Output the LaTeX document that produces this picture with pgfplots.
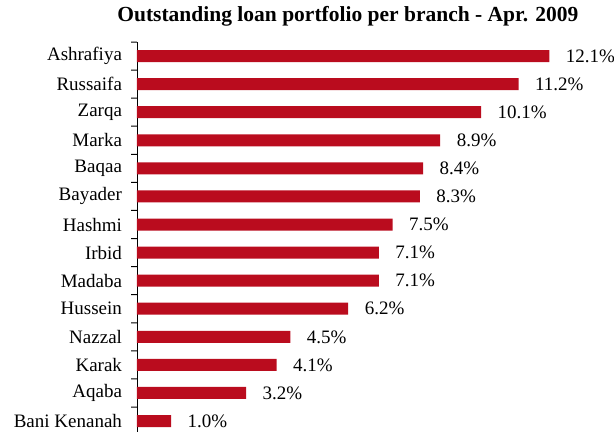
\documentclass[border=0pt]{standalone}
\usepackage{fontspec}
\setmainfont{Liberation Serif}
\usepackage{pgfplots}
\pgfplotsset{compat=1.18}
\definecolor{barred}{RGB}{186,12,30}
\begin{document}
\begin{tikzpicture}
\begin{axis}[
  at={(137pt,-42pt)}, anchor=north west,
  width=477pt, height=390pt, scale only axis,
  xmin=0, xmax=14,
  ymin=-0.5, ymax=13.39, y dir=reverse,
  axis x line=none,
  axis y line=left,
  y axis line style={-, black, line width=0.8pt},
  ytick={0,...,13},
  yticklabels={Ashrafiya,Russaifa,Zarqa,Marka,Baqaa,Bayader,Hashmi,Irbid,Madaba,Hussein,Nazzal,Karak,Aqaba,Bani Kenanah},
  tick align=outside,
  tick style={draw=none},
  major tick length=5.5pt,
  yticklabel style={font=\fontsize{19}{22}\selectfont, xshift=-6pt},
  /pgf/number format/assume math mode=true,
  title={Outstanding loan portfolio per branch - Apr. 2009},
  title style={at={(axis description cs:0.442,1)}, anchor=base, yshift=15pt, font=\bfseries\fontsize{21.5}{24}\selectfont},
  clip=false,
]
\addplot[xbar, bar width=12pt, fill=barred, draw=none,
  point meta=x,
  nodes near coords={\pgfmathprintnumber[fixed,fixed zerofill,precision=1]{\pgfplotspointmeta}\%},
  nodes near coords style={font=\fontsize{19}{22}\selectfont, anchor=west, xshift=13pt, text=black}]
  coordinates {
  (12.1,0) (11.2,1) (10.1,2) (8.9,3) (8.4,4) (8.3,5) (7.5,6)
  (7.1,7) (7.1,8) (6.2,9) (4.5,10) (4.1,11) (3.2,12) (1.0,13)
};
% tick marks between the categories, drawn as thin bars to the left of the axis
\addplot[xbar, bar width=1pt, fill=black, draw=none, forget plot]
  coordinates {
  (-0.17,-0.5) (-0.17,0.5) (-0.17,1.5) (-0.17,2.5) (-0.17,3.5)
  (-0.17,4.5) (-0.17,5.5) (-0.17,6.5) (-0.17,7.5) (-0.17,8.5)
  (-0.17,9.5) (-0.17,10.5) (-0.17,11.5) (-0.17,12.5)
};
\end{axis}
\pgfresetboundingbox
\path (0,0) rectangle (614pt,-432pt);
\end{tikzpicture}
\end{document}
